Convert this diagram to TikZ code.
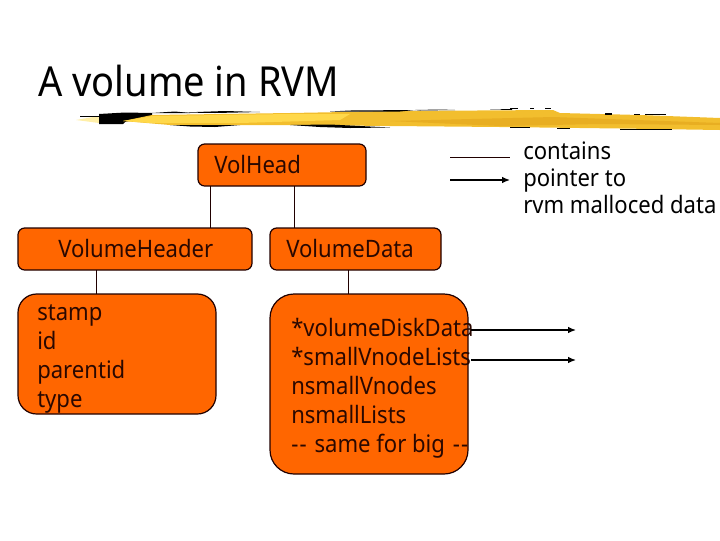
\documentclass[tikz,border=0pt]{standalone}
\usepackage{fontspec}
\setmainfont[FakeStretch=0.92]{Noto Sans}
\usetikzlibrary{arrows.meta}
\definecolor{boxorange}{HTML}{FF6600}
\definecolor{boxline}{HTML}{200000}
\definecolor{inkdark}{HTML}{2A0800}
\definecolor{brushA}{HTML}{F2BE2E}
\definecolor{brushB}{HTML}{FFD84A}
\definecolor{brushC}{HTML}{E8AE22}
\definecolor{brushP}{HTML}{FFEFA8}
\tikzset{
  orangebox/.style={draw=boxline,line width=0.9pt,fill=boxorange,rounded corners=#1,inner sep=0pt},
  orangebox/.default=5pt,
  label/.style={text=inkdark,font=\fontsize{18}{21.75}\selectfont,align=left,anchor=north west,inner sep=0pt},
  tie/.style={draw=boxline,line width=0.6pt},
  ptr/.style={draw=black,line width=1pt,-{Latex[length=6pt,width=5pt]}}
}
\begin{document}
\begin{tikzpicture}[x=0.75pt,y=-0.75pt]
\useasboundingbox (0,0) rectangle (720,540);
% title
\node[anchor=base west,inner sep=0pt,text=black,font=\fontsize{31}{36}\selectfont] (title) at (38,96) {A volume in RVM};
% brush stroke: pale tail, black blob, golden body, dashes
\fill[brushP] (76,120) -- (99,116) -- (99,123) -- cycle;
\fill[black] (80,115.5) -- (99,115.5) -- (99,117) -- (80,117) -- cycle;
\fill[black] (99,114) -- (125,112.5) -- (152,113) -- (152,116) -- (125,122) -- (123,124) -- (99,124) -- cycle;
\fill[brushA] (123,121) -- (152,115) -- (290,113) -- (400,111) -- (553,110) -- (560,113) -- (640,115) -- (720,118) -- (720,130) -- (620,128.5) -- (500,127) -- (390,126) -- (290,125) -- (170,125) -- cycle;
\fill[brushB] (123,121) -- (152,116) -- (290,114) -- (350,114) -- (340,120) -- (240,123) -- (150,123) -- cycle;
\fill[brushC] (390,121) -- (553,117) -- (720,123) -- (720,125) -- (600,124) -- (500,126) -- cycle;
\fill[black] (152,113) -- (175,111.5) -- (190,113) -- cycle;
\fill[black] (182,112.5) -- (225,111) -- (260,112) -- (215,113) -- cycle;
\fill[black] (330,111.5) -- (350,110.5) -- (415,110) -- (400,111.5) -- cycle;
\fill[black] (415,110) -- (440,109.5) -- (455,110) -- (420,110.5) -- cycle;
\fill[black] (490,109.5) -- (512,109) -- (512,110) -- cycle;
\fill[black] (510,107.5) -- (518,107.5) -- (518,108.5) -- (510,108.5) -- cycle;
\fill[black] (530,107.5) -- (534,107.5) -- (534,108.5) -- (530,108.5) -- cycle;
\fill[black] (545,107.5) -- (551,107.5) -- (551,108.5) -- (545,108.5) -- cycle;
\fill[black] (605,113) -- (612,113) -- (612,114.5) -- (605,114.5) -- cycle;
\fill[black] (634,113.5) -- (640,113.5) -- (640,114.5) -- (634,114.5) -- cycle;
\fill[black] (645,114) -- (666,114) -- (666,115) -- (645,115) -- cycle;
\fill[black] (170,125) -- (205,125) -- (240,125) -- (215,127) -- (190,126.5) -- cycle;
\fill[black] (290,125) -- (330,124.5) -- (390,127.5) -- (350,128) -- (320,127) -- cycle;
\fill[black] (510,127) -- (530,127) -- (530,128) -- (510,128) -- cycle;
\fill[black] (557,127.5) -- (570,127.5) -- (570,128.5) -- (557,128.5) -- cycle;
\fill[black] (620,128.5) -- (672,128.5) -- (672,130) -- (620,130) -- cycle;
% boxes
\path[orangebox] (18,228) rectangle (252,270);
\path[orangebox] (198,144) rectangle (366,186);
\path[orangebox] (270,228) rectangle (441,270);
\path[orangebox=14pt] (18,294) rectangle (216,414);
\path[orangebox=18pt] (270,294) rectangle (468,474);
\coordinate (headL) at (210,186); \coordinate (hdrT) at (210,228);
\coordinate (headR) at (294,186); \coordinate (dataT) at (294,228);
\coordinate (hdrB) at (96.5,270); \coordinate (stampT) at (96.5,294);
\coordinate (dataB) at (348,270); \coordinate (listT) at (348,294);
\draw[tie] (headL) -- (hdrT);
\draw[tie] (headR) -- (dataT);
\draw[tie] (hdrB) -- (stampT);
\draw[tie] (dataB) -- (listT);
% labels
\node[label,anchor=base west] (volhead) at (214,173) {VolHead};
\node[label,anchor=base west] (volhdr) at (58,257) {VolumeHeader};
\node[label,anchor=base west] (voldata) at (286,257) {VolumeData};
\node[label] (stamp) at (37,304) {stamp\\id\\parentid\\type};
\node[label] (fields) at (291,318) {*volumeDiskData\\*smallVnodeLists\\nsmallVnodes\\nsmallLists\\-\kern1pt-\kern1.5pt{} same for big\kern1.5pt{} -\kern1pt-};
\node[label,text=black,font=\fontsize{18}{20.25}\selectfont] (legend) at (523,142) {contains\\pointer to\\rvm malloced data};
% pointers
\coordinate (a1) at (471,330); \coordinate (a2) at (576,330);
\coordinate (b1) at (471,360); \coordinate (b2) at (576,360);
\coordinate (c1) at (450,157); \coordinate (c2) at (510,157);
\coordinate (d1) at (450,180); \coordinate (d2) at (510,180);
\draw[ptr] (a1) -- (a2);
\draw[ptr] (b1) -- (b2);
\draw[tie,line width=0.5pt] (c1) -- (c2);
\draw[ptr] (d1) -- (d2);
\end{tikzpicture}
\end{document}
